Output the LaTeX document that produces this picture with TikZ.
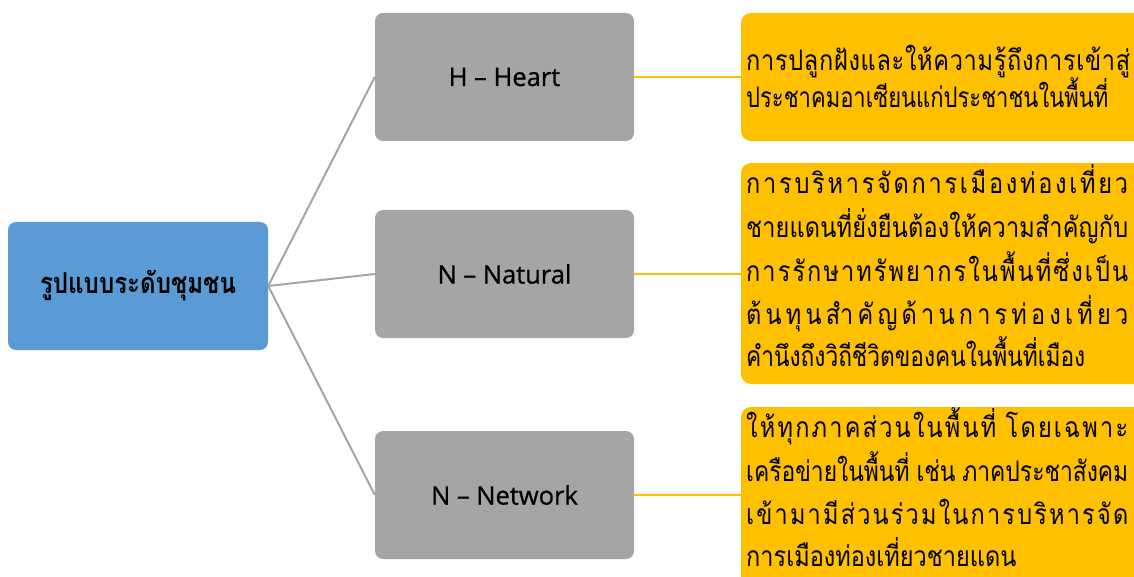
\documentclass[tikz,border=0pt]{standalone}
\usepackage{graphicx}
\usepackage{fontspec}
\newfontfamily\thai[Script=Thai]{Loma}
\newfontfamily\latinsans[FakeBold=0.8]{Open Sans}
\definecolor{bluebox}{HTML}{5B9BD5}
\definecolor{graybox}{HTML}{A5A5A5}
\definecolor{orangebox}{HTML}{FFC000}
\makeatletter
\newif\ifspr@first
\newif\ifspr@mark
\def\spr@end{}
\def\spr@go#1{\ifx\spr@end#1\else\spr@char#1\expandafter\spr@go\fi}
\def\spr@char#1{%
  \ifx|#1\hskip .3em plus 1fil\relax\spr@firsttrue
  \else
    \spr@markfalse
    \count@=`#1\relax
    \ifnum\count@="0E31 \spr@marktrue\fi
    \ifnum\count@>"0E32 \ifnum\count@<"0E3B \spr@marktrue\fi\fi
    \ifnum\count@>"0E46 \ifnum\count@<"0E4F \spr@marktrue\fi\fi
    \ifspr@mark\else\ifspr@first\spr@firstfalse\else\hskip 0pt plus 1fil\relax\fi\fi
    #1%
  \fi}
% justified line: spread clusters to the width, or shrink if too wide
\newcommand\fitline[2]{%
  \setbox0\hbox{\spr@firsttrue\spr@go#2\spr@end}%
  \ifdim\wd0>#1pt\relax\resizebox{#1pt}{1.2\height}{\box0}%
  \else\scalebox{1}[1.2]{\hbox to #1pt{\spr@firsttrue\spr@go#2\spr@end}}\fi}
% last line: natural, shrunk only if too wide
\newcommand\lastline[2]{%
  \setbox0\hbox{\spr@firsttrue\spr@go#2\spr@end}%
  \ifdim\wd0>#1pt\relax\resizebox{#1pt}{1.2\height}{\box0}%
  \else\scalebox{1}[1.2]{\box0}\fi}
\makeatother
\tikzset{
  rootbox/.style={fill=bluebox, rounded corners=8pt, minimum width=260pt, minimum height=128pt, inner sep=0pt, font=\thai\bfseries\fontsize{24}{28}\selectfont},
  midbox/.style={fill=graybox, rounded corners=8pt, minimum width=259pt, minimum height=128pt, inner sep=0pt, font=\latinsans\fontsize{25.5}{30}\selectfont},
  leafbox/.style={fill=orangebox, rounded corners=10pt, inner sep=0pt},
  txt/.style={anchor=base west, inner sep=0pt, font=\thai\fontsize{23.5}{28}\selectfont},
  grayline/.style={draw=graybox, line width=2pt},
  orangeline/.style={draw=orangebox, line width=2.2pt},
}
\begin{document}
\begin{tikzpicture}[x=1pt,y=-1pt]
\useasboundingbox (0,0) rectangle (1134,577);
\node[rootbox] (root) at (138,286) {\resizebox{196pt}{1.2\height}{รูปแบบระดับชุมชน}};
\node[midbox] (h) at (504.5,77) {H – Heart};
\node[midbox] (nat) at (504.5,274) {N – Natural};
\node[midbox] (net) at (504.5,495) {N – Network};
\path[leafbox] (741,13) rectangle (1144,141);
\path[leafbox] (741,163) rectangle (1144,384);
\path[leafbox] (741,407) rectangle (1144,587);
\coordinate (l1) at (741,77);
\coordinate (l2) at (741,274);
\coordinate (l3) at (741,495);
\draw[grayline] (root.east) -- (h.west);
\draw[grayline] (root.east) -- (nat.west);
\draw[grayline] (root.east) -- (net.west);
\draw[orangeline] (h.east) -- (l1);
\draw[orangeline] (nat.east) -- (l2);
\draw[orangeline] (net.east) -- (l3);
\node[txt] (a1) at (746,71) {\fitline{384}{การปลูกฝังและให้ความรู้ถึงการเข้าสู่}};
\node[txt] (a2) at (746,108) {\lastline{362}{ประชาคมอาเซียนแก่ประชาชนในพื้นที่}};
\node[txt] (b1) at (746,194) {\fitline{382}{การบริหารจัดการเมืองท่องเที่ยว}};
\node[txt] (b2) at (746,238) {\fitline{382}{ชายแดนที่ยั่งยืนต้องให้ความสำคัญกับ}};
\node[txt] (b3) at (746,281) {\fitline{382}{การรักษาทรัพยากรในพื้นที่ซึ่งเป็น}};
\node[txt] (b4) at (746,324) {\fitline{382}{ต้นทุนสำคัญด้านการท่องเที่ยว}};
\node[txt] (b5) at (746,366) {\lastline{339}{คำนึงถึงวิถีชีวิตของคนในพื้นที่เมือง}};
\node[txt] (c1) at (746,437) {\fitline{382}{ให้ทุกภาคส่วนในพื้นที่|โดยเฉพาะ}};
\node[txt] (c2) at (746,481) {\fitline{382}{เครือข่ายในพื้นที่|เช่น|ภาคประชาสังคม}};
\node[txt] (c3) at (746,524) {\fitline{382}{เข้ามามีส่วนร่วมในการบริหารจัด}};
\node[txt] (c4) at (746,566) {\lastline{271}{การเมืองท่องเที่ยวชายแดน}};
\end{tikzpicture}
\end{document}
